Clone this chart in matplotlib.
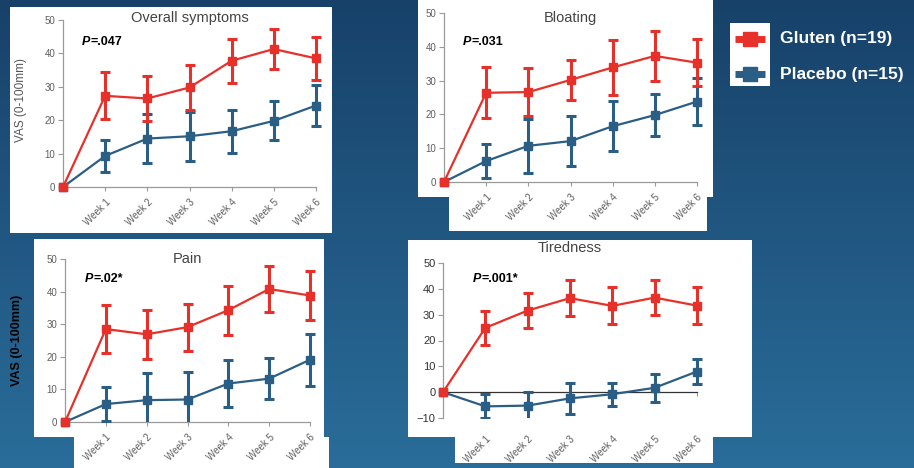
import numpy as np
import matplotlib
matplotlib.use("Agg")
import matplotlib.pyplot as plt
from matplotlib.patches import Rectangle

plt.rcParams['font.family'] = ['Liberation Sans', 'DejaVu Sans']

# ---- data -------------------------------------------------------------
week_labels = ["Week 1", "Week 2", "Week 3", "Week 4", "Week 5", "Week 6"]
x_pos = [0, 1, 2, 3, 4, 5, 6]  # baseline + six weeks

overall_gluten = [0, 27.3, 26.5, 29.8, 37.8, 41.3, 38.5]
overall_gluten_err = [0, 7.0, 6.8, 6.7, 6.6, 6.0, 6.5]
overall_placebo = [0, 9.3, 14.5, 15.2, 16.7, 19.8, 24.4]
overall_placebo_err = [0, 4.8, 7.3, 7.3, 6.5, 5.8, 6.2]

bloating_gluten = [0, 26.4, 26.6, 30.2, 33.9, 37.3, 35.3]
bloating_gluten_err = [0, 7.5, 7.2, 6.0, 8.2, 7.3, 7.0]
bloating_placebo = [0, 6.2, 10.7, 12.1, 16.5, 19.8, 23.8]
bloating_placebo_err = [0, 5.0, 8.0, 7.5, 7.4, 6.2, 6.9]

pain_gluten = [0, 28.5, 26.9, 29.1, 34.3, 40.8, 38.8]
pain_gluten_err = [0, 7.4, 7.5, 7.2, 7.5, 7.0, 7.6]
pain_placebo = [0, 5.5, 6.7, 6.9, 11.8, 13.3, 19.1]
pain_placebo_err = [0, 5.1, 8.3, 8.3, 7.2, 6.3, 8.0]

tired_gluten = [0, 24.9, 31.6, 36.4, 33.4, 36.6, 33.5]
tired_gluten_err = [0, 6.6, 6.6, 7.0, 7.2, 6.8, 7.3]
tired_placebo = [0, -5.5, -5.2, -2.4, -0.8, 1.7, 8.0]
tired_placebo_err = [0, 4.6, 5.4, 6.1, 4.5, 5.5, 4.8]

p_values = ["=.047", "=.031", "=.02*", "=.001*"]
titles = ["Overall symptoms", "Bloating", "Pain", "Tiredness"]
legend_labels = ["Gluten (n=19)", "Placebo (n=15)"]

RED = "#e8302a"
BLUE = "#2b5e84"

W, H = 914, 468
fig = plt.figure(figsize=(W / 100, H / 100), dpi=100)

# ---- slide background in pixel coordinates ----------------------------
bg = fig.add_axes([0, 0, 1, 1], zorder=-10)
bg.set_xlim(0, W)
bg.set_ylim(H, 0)
bg.axis("off")
top = np.array([0x17, 0x41, 0x69]) / 255
bot = np.array([0x2a, 0x6d, 0x9a]) / 255
t = np.linspace(0, 1, 256)[:, None, None]
grad = top + (bot - top) * t
grad = np.repeat(grad, 2, axis=1)
bg.imshow(grad, extent=[0, W, H, 0], aspect="auto", interpolation="bicubic")

white_boxes = [
    (10, 7, 332, 233),
    (418, 0, 713, 197), (449, 197, 707, 231),
    (34, 239, 324, 437), (74, 437, 329, 468),
    (408, 240, 752, 437), (455, 437, 713, 463),
    (730, 23, 770, 86),
]
for x0, y0, x1, y1 in white_boxes:
    bg.add_patch(Rectangle((x0, y0), x1 - x0, y1 - y0, facecolor="white",
                           edgecolor="none"))

# legend
for yy, col, lab in [(39, RED, legend_labels[0]), (74, BLUE, legend_labels[1])]:
    bg.plot([735, 765], [yy, yy], color=col, lw=5, solid_capstyle="butt")
    bg.plot([750], [yy], marker="s", ms=9.5, color=col)
    bg.text(780, yy, lab, color="white", fontsize=12.5, fontweight="bold",
            ha="left", va="center")


def px_axes(x0, x1, ytop, ybot):
    return fig.add_axes([x0 / W, 1 - ybot / H, (x1 - x0) / W, (ybot - ytop) / H])


panels = [
    dict(box=(63, 316, 20, 187), ylim=(0, 50), g=overall_gluten, ge=overall_gluten_err,
         p=overall_placebo, pe=overall_placebo_err, ptxt=(0.45, 43.4), tfrac=1.012),
    dict(box=(444, 697, 13, 182), ylim=(0, 50), g=bloating_gluten, ge=bloating_gluten_err,
         p=bloating_placebo, pe=bloating_placebo_err, ptxt=(0.45, 41.4), tfrac=0.97),
    dict(box=(65, 310, 259, 422), ylim=(0, 50), g=pain_gluten, ge=pain_gluten_err,
         p=pain_placebo, pe=pain_placebo_err, ptxt=(0.49, 44), tfrac=1.0),
    dict(box=(443, 697, 263, 418), ylim=(-10, 50), g=tired_gluten, ge=tired_gluten_err,
         p=tired_placebo, pe=tired_placebo_err, ptxt=(0.71, 44), tfrac=1.097),
]

for i, pan in enumerate(panels):
    ax = px_axes(*pan["box"])
    ax.set_facecolor("none")
    ax.set_xlim(0, 6)
    ax.set_ylim(*pan["ylim"])
    for s in ("top", "right"):
        ax.spines[s].set_visible(False)
    for s in ("left", "bottom"):
        ax.spines[s].set_color("#9a9a9a")
        ax.spines[s].set_linewidth(0.9)
    if i == 3:
        ax.spines["bottom"].set_position(("data", 0))
        ax.spines["bottom"].set_color("#333333")

    # error bars may overhang the sides but stop at the bottom of the axes
    clip = Rectangle((-0.1, 0), 1.2, 1.5, transform=ax.transAxes, facecolor="none")

    for vals, errs, col, z in [(pan["p"], pan["pe"], BLUE, 3), (pan["g"], pan["ge"], RED, 4)]:
        ax.plot(x_pos, vals, color=col, lw=1.6, marker="s", ms=6, zorder=z,
                clip_on=False)
        eb = ax.errorbar(x_pos[1:], vals[1:], yerr=errs[1:], fmt="none", ecolor=col,
                         elinewidth=2.2, capsize=3.3, capthick=2.2, zorder=z)
        for art in list(eb.lines[1]) + list(eb.lines[2]):
            art.set_clip_path(clip)

    ax.set_xticks(range(1, 7))
    yt = list(range(int(pan["ylim"][0]), 51, 10))
    ax.set_yticks(yt)
    ax.tick_params(axis="y", length=3.5, width=0.8, color="#9a9a9a", pad=2,
                   labelsize=8 if i == 3 else 7,
                   labelcolor="#333333" if i == 3 else "#5e5e5e")
    xpad = 27 if i == 3 else 4
    ax.tick_params(axis="x", length=3, width=0.8, color="#9a9a9a", pad=xpad,
                   labelsize=7, labelcolor="#5e5e5e")
    ax.set_xticklabels(week_labels, rotation=45, ha="right", va="top",
                       rotation_mode="anchor")

    ax.text(0.5, pan["tfrac"], titles[i], transform=ax.transAxes, ha="center",
            va="center", fontsize=10.5, color="#444444")

    tp = ax.text(pan["ptxt"][0], pan["ptxt"][1], "P", fontsize=9, fontweight="bold",
                 fontstyle="italic", ha="left", va="center", color="black")
    ax.annotate(p_values[i], xy=(1, 0), xycoords=tp, ha="left", va="bottom",
                fontsize=9, fontweight="bold", color="black")

    if i == 0:
        ax.set_ylabel("VAS (0-100mm)", fontsize=8.5, color="#555555")
        ax.yaxis.set_label_coords(-0.142, 0.52)
    if i == 2:
        ax.set_ylabel("VAS (0-100mm)", fontsize=9, fontweight="bold", color="black")
        ax.yaxis.set_label_coords(-0.171, 0.50)

fig.savefig("out.png", dpi=100)
